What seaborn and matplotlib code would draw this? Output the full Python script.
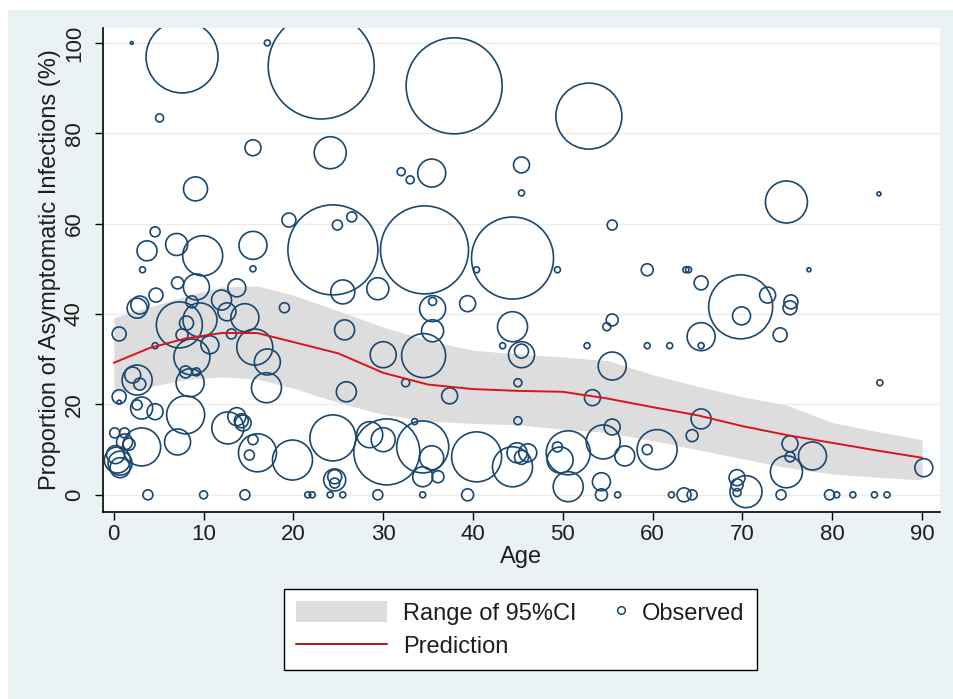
import numpy as np
import pandas as pd
import matplotlib
matplotlib.use('Agg')
import matplotlib.pyplot as plt
import seaborn as sns
from matplotlib.lines import Line2D
from matplotlib.patches import Patch, Rectangle
from matplotlib.legend_handler import HandlerLine2D

# observed studies: age, proportion asymptomatic (%), bubble weight (study size)
age = [2.0, 7.6, 5.1, 17.1, 23.1, 37.9, 15.5, 24.1, 9.1, 32.0, 33.0, 35.4, 45.4, 45.4, 52.9, 74.9, 85.2, 55.5,
       4.6, 3.7, 7.0, 9.9, 15.5, 19.5, 24.4, 24.9, 26.5, 34.6, 44.4, 25.5, 29.4, 35.5, 35.5, 35.5, 39.4, 40.4,
       49.4, 44.4, 45.4, 45.4, 43.3, 52.7, 30.0, 34.5, 32.5, 37.4, 45.0, 45.0, 25.7, 25.9, 28.5, 30.0, 30.4,
       34.4, 35.4, 33.5, 34.4, 36.1, 40.4, 44.4, 44.9, 46.1, 45.4, 49.4, 49.7, 50.6, 50.6, 29.4, 34.4, 39.4,
       3.2, 15.5, 7.1, 9.2, 13.7, 4.7, 2.9, 2.6, 8.7, 12.0, 19.0, 7.3, 9.6, 12.6, 14.6, 8.1, 0.6, 7.6, 8.7,
       10.7, 13.1, 4.6, 15.7, 17.1, 2.6, 2.1, 2.9, 8.0, 9.2, 8.5, 17.0, 0.6, 0.6, 3.1, 2.6, 4.6, 8.0, 12.7,
       13.7, 14.4, 14.2, 7.1, 15.5, 16.0, 15.1, 19.9, 24.4, 24.6, 24.6, 24.6, 0.1, 1.2, 3.1, 1.2, 1.7, 0.4,
       0.7, 0.2, 0.7, 3.8, 10.0, 14.6, 21.6, 22.1, 24.1, 25.5, 59.4, 63.7, 64.0, 77.4, 65.4, 69.8, 69.9, 72.8,
       75.4, 75.3, 74.2, 55.5, 54.9, 65.4, 65.4, 59.4, 61.9, 55.5, 53.3, 65.4, 64.4, 55.5, 54.5, 56.9, 60.5,
       59.4, 54.3, 54.3, 56.1, 62.1, 63.5, 64.4, 69.4, 69.4, 69.4, 70.4, 74.3, 79.7, 75.3, 75.3, 74.9, 77.8,
       85.3, 90.2, 80.5, 82.3, 84.7, 86.1]
proportion = [100, 96.9, 83.4, 100, 94.9, 90.5, 76.8, 75.7, 67.7, 71.5, 69.7, 71.2, 73.0, 66.8, 83.8, 64.8, 66.6, 59.7,
              58.2, 54.0, 55.4, 52.9, 55.2, 60.8, 54.2, 59.7, 61.5, 54.2, 52.4, 44.9, 45.6, 41.2, 42.8, 36.3, 42.3, 49.8,
              49.8, 37.2, 31.0, 31.8, 33.0, 33.0, 31.0, 30.8, 24.8, 21.9, 24.8, 16.4, 36.5, 22.8, 13.3, 12.2, 9.5,
              10.6, 8.2, 16.2, 4.0, 4.0, 8.4, 6.2, 9.3, 9.3, 8.3, 10.6, 7.7, 1.8, 9.3, 0, 0, 0,
              49.8, 50.0, 46.9, 46.0, 45.8, 44.2, 42.0, 41.3, 42.7, 43.1, 41.4, 37.6, 38.7, 40.5, 39.2, 38.0, 35.6, 35.4, 30.5,
              33.2, 35.6, 33.0, 32.7, 29.4, 25.4, 26.5, 24.5, 27.2, 27.2, 24.8, 23.7, 21.7, 20.5, 19.2, 19.9, 18.4, 17.7, 14.8,
              17.3, 15.9, 16.4, 11.7, 12.2, 9.3, 8.8, 7.7, 12.6, 3.3, 4.0, 2.6, 13.7, 13.7, 10.6, 11.7, 11.2, 7.7,
              6.0, 8.9, 7.0, 0, 0, 0, 0, 0, 0, 0, 49.8, 49.8, 49.8, 49.8, 46.9, 41.6, 39.6, 44.2,
              42.7, 41.4, 35.4, 38.7, 37.2, 35.0, 33.0, 33.0, 33.0, 28.5, 21.5, 16.8, 13.1, 15.0, 11.7, 8.6, 10.0,
              10.0, 2.9, 0, 0, 0, 0, 0, 3.8, 2.2, 0.5, 0.7, 0, 0, 11.3, 8.4, 5.1, 8.6,
              24.8, 6.0, 0, 0, 0, 0]
weight = [2, 1296, 16, 9, 2809, 2304, 64, 256, 144, 16, 16, 196, 64, 9, 1089, 441, 4, 25,
          25, 100, 121, 400, 196, 49, 2025, 25, 25, 1936, 1681, 144, 121, 169, 16, 121, 64, 9,
          9, 225, 169, 49, 9, 9, 169, 484, 16, 64, 16, 16, 100, 100, 169, 144, 1089,
          676, 144, 9, 100, 36, 625, 400, 100, 81, 49, 25, 169, 225, 484, 25, 9, 36,
          9, 9, 36, 169, 81, 49, 81, 100, 36, 100, 25, 529, 289, 81, 196, 49, 49, 36, 324,
          81, 25, 9, 324, 169, 225, 64, 36, 36, 16, 196, 225, 49, 4, 121, 25, 64, 361, 256,
          81, 64, 49, 169, 25, 361, 25, 400, 529, 121, 49, 25, 25, 25, 361, 64, 36, 169,
          100, 81, 144, 25, 16, 25, 9, 9, 9, 9, 36, 9, 9, 4, 49, 1024, 81, 64,
          49, 49, 49, 36, 16, 196, 9, 9, 9, 196, 64, 100, 36, 64, 289, 100, 400,
          25, 81, 36, 9, 9, 49, 25, 64, 36, 16, 256, 25, 25, 64, 25, 256, 196,
          9, 81, 9, 9, 9, 9]

# fitted curve and 95% CI
fit_age = [0, 4, 8, 12, 16, 20, 25, 30, 35, 40, 45, 50, 55, 60, 65, 70, 75, 80, 85, 90]
fit_pred = [29.2, 32.5, 34.6, 35.8, 35.8, 33.8, 31.3, 27.0, 24.4, 23.4, 23.0, 22.8, 21.3, 19.4, 17.6, 15.2, 13.2, 11.5, 9.8, 8.2]
fit_upper = [39.2, 41.6, 44.0, 46.0, 46.2, 44.2, 40.7, 37.1, 34.2, 32.0, 31.2, 30.5, 29.7, 26.6, 24.0, 21.7, 19.8, 16.0, 14.0, 12.2]
fit_lower = [22.6, 23.9, 25.5, 26.1, 25.6, 23.6, 20.4, 17.8, 16.3, 15.8, 15.5, 14.5, 13.8, 12.0, 10.0, 8.0, 6.0, 4.6, 3.9, 3.3]

obs = pd.DataFrame({'age': age, 'prop': proportion, 'w': weight})
fit = pd.DataFrame({'age': fit_age, 'pred': fit_pred, 'lo': fit_lower, 'hi': fit_upper})

sns.set_theme(style='white')
plt.rcParams['font.family'] = ['Liberation Sans', 'DejaVu Sans']

navy = '#1a476f'
bg = '#eaf2f3'
red = '#d9151b'
band = '#dddddd'
txt = '#1e1e1e'

fig = plt.figure(figsize=(9.54, 6.99), dpi=100, facecolor='white')
fig.patches.append(Rectangle((8 / 954, 0), 1, 1 - 10 / 699, transform=fig.transFigure,
                             facecolor=bg, edgecolor='none', zorder=-10))
ax = fig.add_axes([103 / 954, 1 - 512 / 699, (940 - 103) / 954, (512 - 28) / 699])
ax.set_facecolor('white')

ax.fill_between(fit['age'], fit['lo'], fit['hi'], color=band, lw=0, zorder=1)

# marker area proportional to weight
k = (2 * 0.72) ** 2
sns.scatterplot(data=obs, x='age', y='prop', size='w', sizes=(k * obs['w'].min(), k * obs['w'].max()),
                facecolor='none', edgecolor=navy, linewidth=1.2, legend=False, ax=ax, zorder=3)

sns.lineplot(data=fit, x='age', y='pred', color=red, lw=1.4, ax=ax, zorder=4)

ax.set_xlim(-1.2, 92)
ax.set_ylim(-3.8, 103.3)
ax.set_xticks(range(0, 91, 10))
ax.set_yticks(range(0, 101, 20))
ax.yaxis.grid(True, color='#ececec', lw=1)
ax.xaxis.grid(False)
ax.set_axisbelow(True)
for s in ['top', 'right']:
    ax.spines[s].set_visible(False)
for s in ['left', 'bottom']:
    ax.spines[s].set_color('black')
    ax.spines[s].set_linewidth(1.2)
ax.tick_params(axis='both', direction='out', length=6, width=1, color='black', labelsize=16, labelcolor=txt)
ax.tick_params(axis='x', bottom=True, pad=2.5)
ax.tick_params(axis='y', left=True, pad=7)
plt.setp(ax.get_yticklabels(), rotation=90, va='center')
ax.set_xlabel('Age', fontsize=17, color=txt, labelpad=1)
ax.set_ylabel('Proportion of Asymptomatic Infections (%)', fontsize=17, color=txt)
ax.yaxis.set_label_coords(-0.05, 0.5)


class MarkerAtRight(HandlerLine2D):
    # put the marker at the right end of the handle box, next to its label
    def get_xdata(self, legend, xdescent, ydescent, width, height, fontsize):
        right = -xdescent + width
        return [right - 8, right], [right - 4]


obs_handle = Line2D([], [], ls='none', marker='o', ms=5.5, mfc='none', mec=navy, mew=1.1)
handles = [Patch(facecolor=band, edgecolor='none'),
           Line2D([], [], color='#b3121a', lw=1.4),
           obs_handle]
labels = ['Range of 95%CI', 'Prediction', 'Observed']
leg = fig.legend(handles, labels, loc='center', bbox_to_anchor=(520.5 / 954, 1 - 629.5 / 699), ncol=2,
                 fontsize=17, frameon=True, fancybox=False, edgecolor='black', framealpha=1,
                 handlelength=3.85, handleheight=0.97, columnspacing=-1.75, handletextpad=0.68,
                 labelspacing=0.42, borderpad=0.5, borderaxespad=0,
                 handler_map={obs_handle: MarkerAtRight()})
leg.get_frame().set_linewidth(1.0)
for t in leg.get_texts():
    t.set_color(txt)

fig.savefig('out.png', dpi=100, facecolor=fig.get_facecolor())
